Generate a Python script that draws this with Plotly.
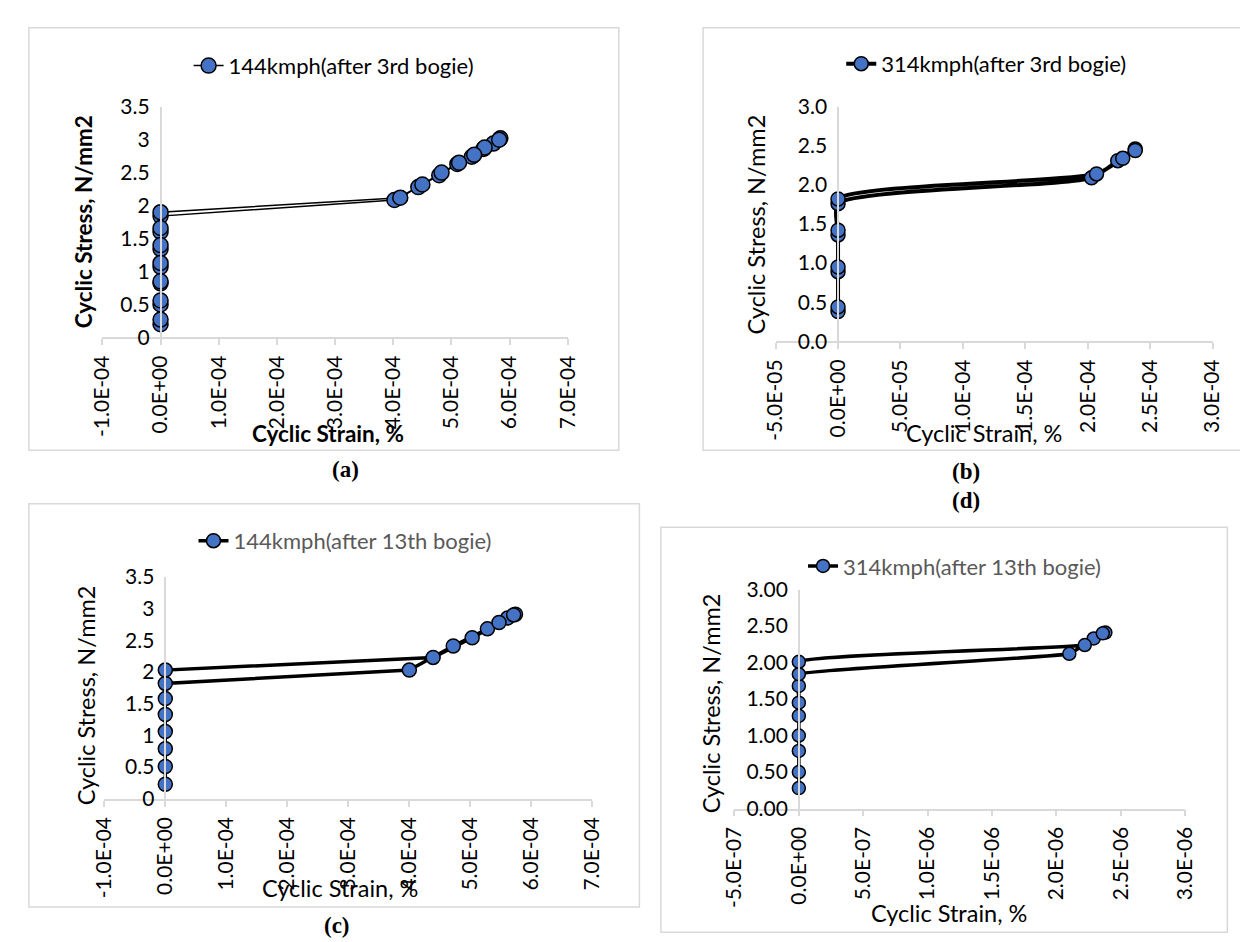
import plotly.graph_objects as go

W, H = 1248, 942

# ---------------- data ----------------
series_names = ["144kmph(after 3rd bogie)", "314kmph(after 3rd bogie)",
                "144kmph(after 13th bogie)", "314kmph(after 13th bogie)"]

a_strain = [0, 0, 0, 0, 0, 0, 0,
            4.02e-4, 4.43e-4, 4.79e-4, 5.10e-4, 5.35e-4, 5.55e-4, 5.72e-4, 5.84e-4,
            5.82e-4, 5.57e-4, 5.39e-4, 5.13e-4, 4.83e-4, 4.50e-4, 4.12e-4,
            0, 0, 0, 0, 0, 0, 0]
a_stress = [0.20, 0.50, 0.82, 1.07, 1.34, 1.60, 1.84,
            2.085, 2.28, 2.46, 2.63, 2.74, 2.86, 2.94, 3.02,
            3.00, 2.88, 2.77, 2.65, 2.50, 2.32, 2.12,
            1.90, 1.66, 1.40, 1.13, 0.85, 0.56, 0.27]

b_strain = [0, 0, 0, 0, 2.03e-4, 2.24e-4, 2.38e-4,
            2.38e-4, 2.28e-4, 2.07e-4, 0, 0, 0, 0]
b_stress = [0.38, 0.89, 1.36, 1.76, 2.09, 2.31, 2.46,
            2.44, 2.34, 2.14, 1.82, 1.42, 0.95, 0.44]

c_strain = [0, 0, 0, 0, 4.00e-4, 4.72e-4, 5.28e-4, 5.61e-4, 5.74e-4,
            5.71e-4, 5.47e-4, 5.03e-4, 4.39e-4, 0, 0, 0, 0]
c_stress = [0.23, 0.79, 1.33, 1.82, 2.03, 2.41, 2.68, 2.85, 2.91,
            2.90, 2.78, 2.54, 2.23, 2.03, 1.58, 1.06, 0.51]

d_strain = [0, 0, 0, 0, 0, 2.10e-6, 2.29e-6, 2.38e-6,
            2.36e-6, 2.22e-6, 0, 0, 0, 0]
d_stress = [0.28, 0.79, 1.27, 1.68, 1.84, 2.12, 2.33, 2.41,
            2.40, 2.24, 2.01, 1.45, 1.00, 0.50]

ac_xticks = [-1e-4, 0, 1e-4, 2e-4, 3e-4, 4e-4, 5e-4, 6e-4, 7e-4]
ac_xtext = ["-1.0E-04", "0.0E+00", "1.0E-04", "2.0E-04", "3.0E-04",
            "4.0E-04", "5.0E-04", "6.0E-04", "7.0E-04"]
b_xticks = [-5e-5, 0, 5e-5, 1e-4, 1.5e-4, 2e-4, 2.5e-4, 3e-4]
b_xtext = ["-5.0E-05", "0.0E+00", "5.0E-05", "1.0E-04", "1.5E-04",
           "2.0E-04", "2.5E-04", "3.0E-04"]
d_xticks = [-5e-7, 0, 5e-7, 1e-6, 1.5e-6, 2e-6, 2.5e-6, 3e-6]
d_xtext = ["-5.0E-07", "0.0E+00", "5.0E-07", "1.0E-06", "1.5E-06",
           "2.0E-06", "2.5E-06", "3.0E-06"]

ac_yticks = [0, 0.5, 1, 1.5, 2, 2.5, 3, 3.5]
ac_ytext = ["0", "0.5", "1", "1.5", "2", "2.5", "3", "3.5"]
b_yticks = [0, 0.5, 1.0, 1.5, 2.0, 2.5, 3.0]
b_ytext = ["0.0", "0.5", "1.0", "1.5", "2.0", "2.5", "3.0"]
d_ytext = ["0.00", "0.50", "1.00", "1.50", "2.00", "2.50", "3.00"]

panel_labels = ["(a)", "(b)", "(c)", "(d)"]
x_title = "Cyclic Strain, %"
y_title = "Cyclic Stress, N/mm2"

# ---------------- layout helpers ----------------
def px(x):
    return x / W

def py(y):
    return 1 - y / H

FONT = "Lato"
BLUE = "#4472C4"
GRID = "#D9D9D9"

panels = [
    dict(x=a_strain, y=a_stress, name=series_names[0], xt=ac_xticks, xtt=ac_xtext,
         yt=ac_yticks, ytt=ac_ytext, plot=(82, 557, 87, 324), lw=1.5, ms=15,
         shape="linear", smooth=0, box=(7, 6, 609, 440), leg=(170, 45), legc="#000000",
         ytpos=(63, 205), xtpos=(312, 423), bold=True),
    dict(x=b_strain, y=b_stress, name=series_names[1], xt=b_xticks, xtt=b_xtext,
         yt=b_yticks, ytt=b_ytext, plot=(769, 1215, 87, 328), lw=4, ms=14,
         shape="spline", smooth=0.6, box=(695, 6, 1262, 440), leg=(836, 43), legc="#000000",
         ytpos=(750, 208), xtpos=(982, 422), bold=False),
    dict(x=c_strain, y=c_stress, name=series_names[2], xt=ac_xticks, xtt=ac_xtext,
         yt=ac_yticks, ytt=ac_ytext, plot=(84, 582, 570, 798), lw=3.5, ms=14,
         shape="linear", smooth=0, box=(7, 495, 630, 909), leg=(175, 533), legc="#595959",
         ytpos=(65, 692), xtpos=(325, 890), bold=False),
    dict(x=d_strain, y=d_stress, name=series_names[3], xt=d_xticks, xtt=d_xtext,
         yt=b_yticks, ytt=d_ytext, plot=(727, 1187, 583, 808), lw=3.5, ms=13,
         shape="spline", smooth=0.25, box=(652, 519, 1230, 935), leg=(797, 559), legc="#595959",
         ytpos=(704, 700), xtpos=(946, 915), bold=False),
]

fig = go.Figure()
layout = dict(
    width=W, height=H, margin=dict(l=0, r=0, t=0, b=0),
    paper_bgcolor="white", plot_bgcolor="white",
    font=dict(family=FONT, size=21, color="#000000"),
    shapes=[], annotations=[],
)

for i, p in enumerate(panels):
    k = "" if i == 0 else str(i + 1)
    leg = "legend" + k
    line = dict(color="black", width=p["lw"], shape=p["shape"])
    if p["shape"] == "spline":
        line["smoothing"] = p["smooth"]
    fig.add_trace(go.Scatter(
        x=p["x"], y=p["y"], name=p["name"], mode="lines+markers",
        line=line,
        marker=dict(color=BLUE, size=p["ms"], line=dict(color="black", width=1.5)),
        xaxis="x" + k, yaxis="y" + k, legend=leg, showlegend=True,
    ))
    x0, x1, y0, y1 = p["plot"]
    xmin, xmax = p["xt"][0], p["xt"][-1]
    dom_x = [px(x0), px(x1)]
    zero_pos = dom_x[0] + (0 - xmin) / (xmax - xmin) * (dom_x[1] - dom_x[0])
    layout["xaxis" + k] = dict(
        domain=dom_x, range=[xmin, xmax], anchor="y" + k,
        tickmode="array", tickvals=p["xt"], ticktext=p["xtt"], tickangle=-90,
        showline=True, linecolor=GRID, linewidth=1.5, ticks="outside",
        tickcolor=GRID, ticklen=6, tickwidth=1.5, showgrid=False, zeroline=False,
        tickfont=dict(family=FONT, size=21, color="black"), ticklabelstandoff=2,
    )
    layout["yaxis" + k] = dict(
        domain=[py(y1), py(y0)], range=[p["yt"][0], p["yt"][-1]],
        anchor="free", position=zero_pos,
        tickmode="array", tickvals=p["yt"], ticktext=p["ytt"],
        showline=True, linecolor=GRID, linewidth=1.5, ticks="",
        showgrid=False, zeroline=False, ticklabelstandoff=6,
        tickfont=dict(family=FONT, size=21, color="black"),
    )
    layout[leg] = dict(
        x=px(p["leg"][0]), y=py(p["leg"][1]), xanchor="left", yanchor="middle",
        orientation="h", bgcolor="rgba(0,0,0,0)",
        font=dict(family=FONT, size=22, color=p["legc"]),
    )
    bx0, by0, bx1, by1 = p["box"]
    layout["shapes"].append(dict(
        type="rect", xref="paper", yref="paper",
        x0=px(bx0), x1=px(bx1), y0=py(by1), y1=py(by0),
        line=dict(color=GRID, width=1.5), fillcolor="rgba(0,0,0,0)", layer="below",
    ))
    weight = "bold" if p["bold"] else "normal"
    tsize = 22.5 if p["bold"] else 23.5
    layout["annotations"].append(dict(
        text=y_title, xref="paper", yref="paper", x=px(p["ytpos"][0]), y=py(p["ytpos"][1]),
        textangle=-90, showarrow=False, xanchor="center", yanchor="middle",
        font=dict(family=FONT, size=tsize, color="black", weight=weight),
    ))
    layout["annotations"].append(dict(
        text=x_title, xref="paper", yref="paper", x=px(p["xtpos"][0]), y=py(p["xtpos"][1]),
        showarrow=False, xanchor="center", yanchor="middle",
        font=dict(family=FONT, size=tsize, color="black", weight=weight),
    ))

label_pos = [(330, 460), (963, 462), (321, 928), (963, 492)]
for lab, (lx, ly) in zip(panel_labels, label_pos):
    layout["annotations"].append(dict(
        text="<b>" + lab + "</b>", xref="paper", yref="paper", x=px(lx), y=py(ly),
        showarrow=False, xanchor="center", yanchor="middle",
        font=dict(family="Liberation Serif", size=23, color="black"),
    ))

fig.update_layout(**layout)
fig.write_html("out.html")
